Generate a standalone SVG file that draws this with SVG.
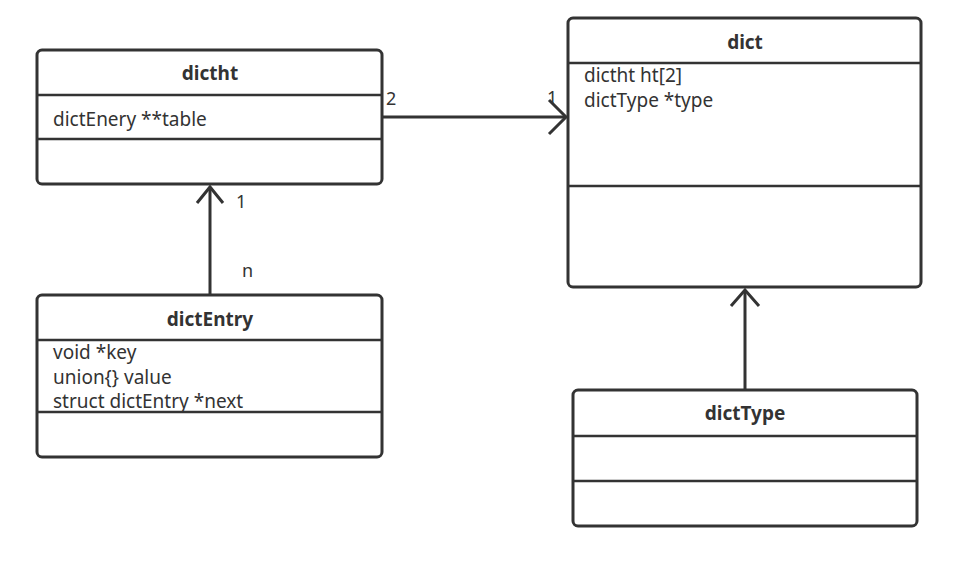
<svg xmlns="http://www.w3.org/2000/svg" width="973" height="564" viewBox="0 0 973 564">
<style>
.box{fill:#fff;stroke:#333;stroke-width:3}
.sep{stroke:#333;stroke-width:2.5}
.title{font-family:"Noto Sans","Open Sans",sans-serif;font-size:19px;font-weight:bold;fill:#333;text-anchor:middle}
.attr{font-family:"Noto Sans","Open Sans",sans-serif;font-size:19px;fill:#333}
.lbl{font-family:"Noto Sans","Open Sans",sans-serif;font-size:18px;fill:#333}
.edge{stroke:#333;stroke-width:3;fill:none}
</style>
<rect width="973" height="564" fill="#fff"/>
<g id="dictht">
<rect class="box" x="37" y="50" width="345" height="134" rx="5"/>
<line class="sep" x1="37" y1="95" x2="382" y2="95"/>
<line class="sep" x1="37" y1="139" x2="382" y2="139"/>
<text class="title" x="210" y="80">dictht</text>
<text class="attr" x="53" y="126">dictEnery **table</text>
</g>
<g id="dictEntry">
<rect class="box" x="37" y="295" width="345" height="162" rx="5"/>
<line class="sep" x1="37" y1="340" x2="382" y2="340"/>
<line class="sep" x1="37" y1="412" x2="382" y2="412"/>
<text class="title" x="210" y="326">dictEntry</text>
<text class="attr" x="53" y="359">void *key</text>
<text class="attr" x="53" y="384">union{} value</text>
<text class="attr" x="53" y="408">struct dictEntry *next</text>
</g>
<g id="dict">
<rect class="box" x="568" y="18" width="353" height="269" rx="5"/>
<line class="sep" x1="568" y1="63" x2="921" y2="63"/>
<line class="sep" x1="568" y1="186" x2="921" y2="186"/>
<text class="title" x="745" y="49">dict</text>
<text class="attr" x="584" y="82">dictht ht[2]</text>
<text class="attr" x="584" y="107">dictType *type</text>
</g>
<g id="dictType">
<rect class="box" x="573" y="390" width="344" height="136" rx="5"/>
<line class="sep" x1="573" y1="436" x2="917" y2="436"/>
<line class="sep" x1="573" y1="481" x2="917" y2="481"/>
<text class="title" x="745" y="420">dictType</text>
</g>
<g id="connectors">
<line class="edge" x1="382" y1="117" x2="566" y2="117"/>
<polyline class="edge" points="549,100 566,117 549,134"/>
<text class="lbl" x="386" y="105">2</text>
<text class="lbl" x="547" y="104">1</text>
<line class="edge" x1="210" y1="295" x2="210" y2="187"/>
<polyline class="edge" points="197,203 210,187 223,203"/>
<text class="lbl" x="236" y="208">1</text>
<text class="lbl" x="242" y="277">n</text>
<line class="edge" x1="745" y1="390" x2="745" y2="290"/>
<polyline class="edge" points="731,306 745,290 759,306"/>
</g>
</svg>
